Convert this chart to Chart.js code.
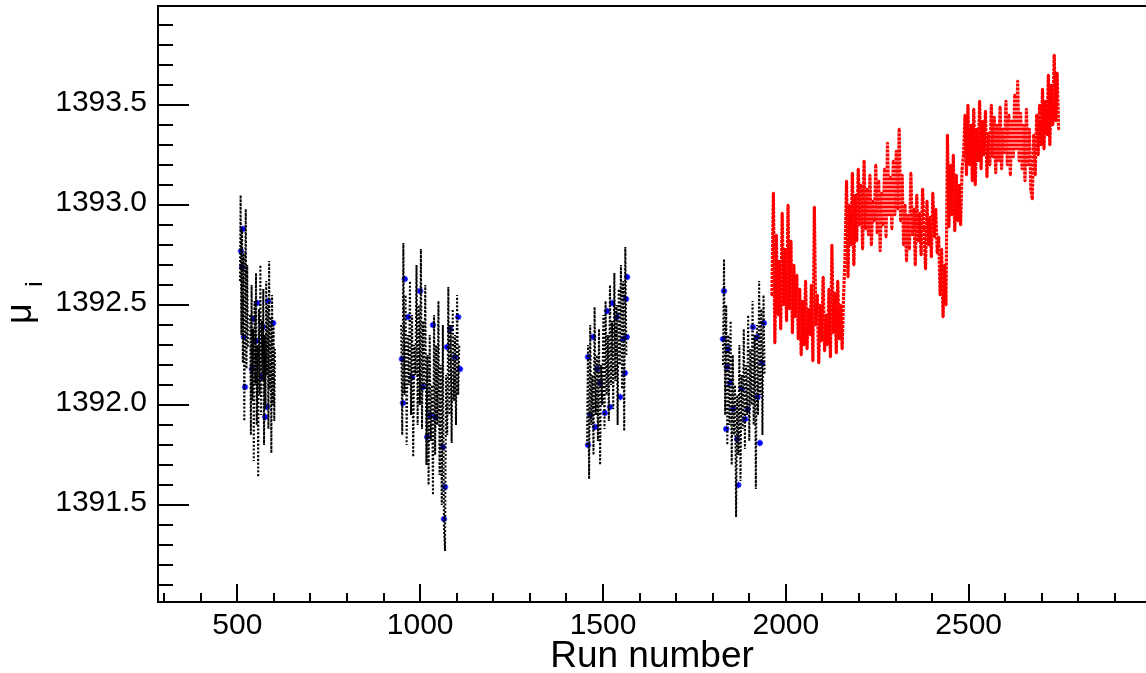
<!DOCTYPE html>
<html>
<head>
<meta charset="utf-8">
<title>mu_i vs run number</title>
<script src="https://cdn.jsdelivr.net/npm/chart.js@4.4.1/dist/chart.umd.min.js"></script>
<style>
  html, body { margin: 0; padding: 0; background: #fff; }
  #wrap { width: 1146px; height: 673px; }
</style>
</head>
<body>
<div id="wrap"><canvas id="chart" width="1146" height="673"></canvas></div>
<script>
// --- Data ---

// black runs, cluster by cluster
const runs1a = [507, 509, 511, 513, 515, 517, 519, 521, 523, 525, 527, 529];
const mu1a = [1392.62, 1393.05, 1392.35, 1392.88, 1392.21, 1392.76, 1391.92, 1392.55, 1392.98, 1392.18, 1392.70, 1392.29];

const runs1b = [535, 537, 539, 541, 543, 545, 547, 549, 551, 553, 555, 557, 559, 561, 563, 565, 567, 569,
  571, 573, 575, 577, 579, 581, 583, 585, 587, 589, 591, 593, 595, 597, 599, 601, 603];
const mu1b = [1392.45, 1391.85, 1392.60, 1392.02, 1392.38, 1391.72, 1392.52, 1392.10, 1392.66, 1391.90,
  1392.30, 1391.64, 1392.48, 1392.05, 1392.70, 1391.95, 1392.42, 1392.12, 1392.58, 1391.80, 1392.35,
  1391.98, 1392.62, 1392.15, 1392.50, 1391.88, 1392.72, 1392.08, 1392.44, 1391.76, 1392.55, 1392.00,
  1392.40, 1391.92, 1392.28];

const runs2 = [948, 951, 954, 957, 960, 963, 966, 969, 972, 975, 978, 981, 984, 987, 990, 993, 996, 999,
  1002, 1005, 1008, 1011, 1014, 1017, 1020, 1023, 1026, 1029, 1032, 1035, 1038, 1041, 1044, 1047, 1050,
  1053, 1056, 1059, 1062, 1065, 1068, 1071, 1074, 1077, 1080, 1083, 1086, 1089, 1092, 1095, 1098, 1101,
  1104, 1107];
const mu2 = [1392.40, 1391.85, 1392.81, 1392.05, 1392.55, 1391.80, 1392.35, 1392.10, 1392.62, 1391.95,
  1392.45, 1391.74, 1392.30, 1392.15, 1392.70, 1391.90, 1392.50, 1392.00, 1392.78, 1391.88, 1392.42,
  1392.08, 1392.60, 1391.70, 1392.25, 1391.60, 1392.35, 1391.82, 1392.10, 1391.55, 1392.45, 1391.75,
  1392.30, 1391.90, 1392.52, 1391.65, 1392.20, 1391.50, 1392.40, 1391.38, 1391.27, 1392.15, 1391.85,
  1392.59, 1391.95, 1392.40, 1391.81, 1392.48, 1392.02, 1392.35, 1391.90, 1392.55, 1392.05, 1392.30];

const runs3 = [1456, 1459, 1462, 1465, 1468, 1471, 1474, 1477, 1480, 1483, 1486, 1489, 1492, 1495, 1498,
  1501, 1504, 1507, 1510, 1513, 1516, 1519, 1522, 1525, 1528, 1531, 1534, 1537, 1540, 1543, 1546, 1549,
  1552, 1555, 1558, 1561, 1564];
const mu3 = [1391.80, 1392.30, 1391.63, 1392.40, 1391.90, 1392.15, 1391.75, 1392.49, 1391.95, 1392.25,
  1391.82, 1392.38, 1391.70, 1392.20, 1392.00, 1392.45, 1391.88, 1392.52, 1392.05, 1392.35, 1391.92,
  1392.60, 1392.10, 1392.42, 1391.98, 1392.66, 1392.12, 1392.50, 1391.90, 1392.58, 1392.20, 1392.70,
  1392.08, 1392.62, 1391.87, 1392.79, 1392.25];

const runs4 = [1828, 1831, 1834, 1837, 1840, 1843, 1846, 1849, 1852, 1855, 1858, 1861, 1864, 1867, 1870,
  1873, 1876, 1879, 1882, 1885, 1888, 1891, 1894, 1897, 1900, 1903, 1906, 1909, 1912, 1915, 1918, 1921,
  1924, 1927, 1930, 1933, 1936, 1939, 1942];
const mu4 = [1392.20, 1392.73, 1391.95, 1392.50, 1391.80, 1392.35, 1391.90, 1392.42, 1391.70, 1392.25,
  1391.85, 1392.10, 1391.44, 1392.05, 1391.75, 1392.30, 1391.62, 1392.15, 1391.88, 1392.38, 1391.78,
  1392.20, 1391.95, 1392.45, 1391.82, 1392.28, 1392.00, 1392.52, 1391.90, 1392.35, 1391.58, 1392.40,
  1391.95, 1392.62, 1392.05, 1392.48, 1391.85, 1392.55, 1392.15];

// blue flagged runs inside the black clusters
const blueRuns = [515, 510, 513, 518, 521, 554, 543, 551, 584, 598, 570, 540, 567, 581, 576,
  958, 967, 1000, 1035, 950, 978, 1008, 953, 1027, 1041, 1062, 1068, 1065, 1082, 1104, 1095, 1109, 1073, 1019,
  1459, 1465, 1478, 1459, 1473, 1484, 1511, 1525, 1538, 1566, 1563, 1555, 1560, 1547, 1519, 1492, 1505, 1565,
  1831, 1828, 1842, 1839, 1847, 1837, 1870, 1856, 1880, 1889, 1910, 1921, 1940, 1935, 1923, 1929, 1896, 1867];
const blueMu = [1392.88, 1392.77, 1392.69, 1392.34, 1392.09, 1392.51, 1392.43, 1392.32, 1392.52, 1392.41,
  1392.39, 1392.18, 1392.14, 1391.99, 1391.94,
  1392.63, 1392.44, 1392.57, 1392.40, 1392.23, 1392.14, 1392.09, 1392.01, 1391.95, 1391.94, 1391.79,
  1391.59, 1391.43, 1392.38, 1392.44, 1392.24, 1392.18, 1392.29, 1391.84,
  1391.80, 1391.95, 1391.89, 1392.24, 1392.34, 1392.18, 1392.47, 1392.51, 1392.44, 1392.64, 1392.53,
  1392.33, 1392.16, 1392.04, 1391.99, 1392.11, 1391.96, 1392.34,
  1392.57, 1392.33, 1392.28, 1392.19, 1392.11, 1391.88, 1391.60, 1391.98, 1392.08, 1391.93, 1392.39,
  1392.34, 1392.41, 1392.21, 1392.04, 1391.81, 1391.98, 1391.83];

// red runs (later period)
const runsRed = [
  1962, 1966, 1970, 1974, 1978, 1982, 1986, 1990, 1994, 1998, 2002, 2006, 2010, 2014, 2018, 2022, 2026, 2030, 2034,
  2038, 2042, 2046, 2050, 2054, 2058, 2062, 2066, 2070, 2074, 2078, 2082, 2086, 2090, 2094, 2098, 2102, 2106,
  2110, 2114, 2118, 2122, 2126, 2130, 2134, 2138, 2142, 2146, 2150, 2154, 2158,
  2162, 2166, 2170, 2174, 2178, 2182, 2186,
  2190, 2194, 2198, 2202, 2206, 2210, 2214, 2218, 2222, 2226, 2230, 2234, 2238, 2242, 2246, 2250, 2254, 2258,
  2262, 2266, 2270, 2274, 2278, 2282, 2286, 2290,
  2294, 2298, 2302, 2306, 2310, 2314, 2318,
  2322, 2326, 2330, 2334, 2338, 2342, 2346, 2350, 2354, 2358, 2362, 2366, 2370, 2374, 2378, 2382, 2386, 2390,
  2394, 2398, 2402, 2406, 2410, 2414,
  2418, 2422, 2426, 2430, 2434, 2438, 2442, 2446, 2450,
  2454, 2458, 2462, 2466, 2470, 2474, 2478, 2482,
  2486, 2490, 2494, 2498, 2502, 2506, 2510, 2514, 2518, 2522, 2526, 2530, 2534, 2538, 2542, 2546, 2550, 2554,
  2558, 2562, 2566, 2570, 2574, 2578, 2582, 2586, 2590, 2594, 2598, 2602, 2606, 2610, 2614, 2618, 2622, 2626,
  2630, 2634, 2638, 2642, 2646, 2650, 2654, 2658, 2662, 2666, 2670, 2674, 2678, 2682, 2686, 2690, 2694,
  2698, 2702, 2706, 2710, 2714, 2718, 2722, 2726, 2730, 2734, 2738, 2742, 2746];
const muRed = [
  1392.55, 1393.06, 1392.31, 1392.85, 1392.45, 1392.72, 1392.38, 1392.96, 1392.50, 1392.78, 1392.42, 1393.00,
  1392.48, 1392.82, 1392.36, 1392.70, 1392.44, 1392.65, 1392.33,
  1392.58, 1392.25, 1392.52, 1392.30, 1392.62, 1392.28, 1392.48, 1392.35, 1392.60, 1392.22, 1392.99, 1392.40,
  1392.55, 1392.21, 1392.50, 1392.32, 1392.64, 1392.27, 1392.45, 1392.30, 1392.58, 1392.24, 1392.80, 1392.36,
  1392.56, 1392.26, 1392.62, 1392.33, 1392.50, 1392.28, 1392.55,
  1392.75, 1393.12, 1392.64, 1393.00, 1392.80, 1393.16, 1392.70,
  1393.05, 1392.82, 1393.18, 1392.90, 1393.10, 1392.78, 1393.22, 1392.88, 1393.08, 1392.85, 1393.15, 1392.80,
  1393.02, 1392.92, 1393.20, 1392.86, 1393.12, 1392.77, 1393.06, 1392.90, 1393.18, 1392.84, 1393.31, 1392.95,
  1393.14, 1392.88,
  1393.22, 1392.95, 1393.27, 1392.98, 1393.38, 1392.92, 1393.15,
  1392.80, 1393.00, 1392.72, 1392.95, 1392.78, 1393.16, 1392.85, 1392.98, 1392.70, 1393.05, 1392.82, 1392.96,
  1392.75, 1393.08, 1392.88, 1392.68, 1393.02, 1392.80, 1392.94, 1392.74, 1393.06, 1392.84, 1392.98, 1392.76,
  1392.84, 1392.55, 1392.78, 1392.44, 1392.70, 1392.50, 1393.35, 1392.89, 1393.20,
  1392.95, 1393.25, 1392.87, 1393.15, 1392.92, 1393.10, 1392.90, 1393.18,
  1393.25, 1393.45, 1393.15, 1393.50, 1393.20, 1393.40, 1393.12, 1393.48, 1393.10, 1393.38, 1393.22, 1393.52,
  1393.18, 1393.42, 1393.25, 1393.47, 1393.14, 1393.36, 1393.20, 1393.50, 1393.24, 1393.44, 1393.16, 1393.40,
  1393.22, 1393.49, 1393.18, 1393.38, 1393.26, 1393.52, 1393.20, 1393.45, 1393.15, 1393.42, 1393.24, 1393.55,
  1393.28, 1393.62, 1393.22, 1393.46, 1393.18, 1393.40, 1393.12, 1393.48, 1393.20, 1393.38, 1393.08, 1393.03,
  1393.35, 1393.15, 1393.45, 1393.25, 1393.50,
  1393.30, 1393.58, 1393.28, 1393.52, 1393.35, 1393.65, 1393.30, 1393.60, 1393.40, 1393.75, 1393.42, 1393.66,
  1393.38];

// axis labels
const xMajorTicks = [500, 1000, 1500, 2000, 2500];
const yMajorTicks = [1391.5, 1392.0, 1392.5, 1393.0, 1393.5];

const toPoints = (xs, ys) => xs.map((x, i) => ({ x: x, y: ys[i] }));

// --- Style ---
const FONT = '"Liberation Sans", Arial, Helvetica, sans-serif';

function dottedRun(xs, ys, color) {
    return {
        data: toPoints(xs, ys),
        showLine: true,
        borderColor: color,
        borderWidth: 2,
        borderDash: [2, 1.8],
        borderCapStyle: 'butt',
        pointRadius: 0,
        pointHoverRadius: 0,
        tension: 0
    };
}

const redSet = dottedRun(runsRed, muRed, '#ff0000');
redSet.borderWidth = 3.2;
redSet.borderDash = [3, 1];
redSet.pointRadius = 1.6;
redSet.pointStyle = 'rect';
redSet.pointBackgroundColor = '#ff0000';
redSet.pointBorderWidth = 0;

// Chart.js reserves room for half a label at the ends; the ROOT frame does not
function noEdgePadding(s) {
    s.paddingTop = 0;
    s.paddingBottom = 0;
    s.paddingLeft = 0;
    s.paddingRight = 0;
}

// ROOT-like frame with inward tick marks, plus axis titles
const rootFrame = {
    id: 'rootFrame',
    afterDatasetsDraw(chart) {
        const { ctx, chartArea: a, scales: { x, y } } = chart;
        ctx.save();
        ctx.strokeStyle = '#000';
        ctx.lineWidth = 2;
        ctx.beginPath();
        for (let k = Math.ceil(y.min * 10); k <= Math.floor(y.max * 10); k++) {
            const py = Math.round(y.getPixelForValue(k / 10));
            const len = (k % 5 === 0) ? 31 : 15;
            ctx.moveTo(a.left, py);
            ctx.lineTo(a.left + len, py);
        }
        for (let k = Math.ceil(x.min / 100); k <= Math.floor(x.max / 100); k++) {
            const px = Math.round(x.getPixelForValue(k * 100));
            const len = (k % 5 === 0) ? 18 : 9;
            ctx.moveTo(px, a.bottom);
            ctx.lineTo(px, a.bottom - len);
        }
        ctx.stroke();

        // frame
        ctx.beginPath();
        ctx.moveTo(a.right, a.top);
        ctx.lineTo(a.left, a.top);
        ctx.lineTo(a.left, a.bottom);
        ctx.lineTo(a.right, a.bottom);
        ctx.stroke();
        ctx.restore();
    },
    afterDraw(chart) {
        const { ctx, chartArea: a } = chart;
        ctx.save();
        ctx.fillStyle = '#000';
        ctx.font = '37px ' + FONT;
        ctx.textAlign = 'center';
        ctx.textBaseline = 'alphabetic';
        ctx.fillText('Run number', (a.left + a.right) / 2, 667);

        // y title: mu with subscript i, rotated
        ctx.font = '36px ' + FONT;
        ctx.translate(31, 324);
        ctx.rotate(-Math.PI / 2);
        ctx.textAlign = 'left';
        ctx.fillText('\u03bc', 0, 0);
        ctx.font = '24px ' + FONT;
        ctx.textAlign = 'center';
        ctx.fillText('i', 40, 11);
        ctx.restore();
    }
};

new Chart(document.getElementById('chart'), {
    type: 'scatter',
    data: {
        datasets: [
            dottedRun(runs1a, mu1a, '#000000'),
            dottedRun(runs1b, mu1b, '#000000'),
            dottedRun(runs2, mu2, '#000000'),
            dottedRun(runs3, mu3, '#000000'),
            dottedRun(runs4, mu4, '#000000'),
            {
                data: toPoints(blueRuns, blueMu),
                showLine: false,
                pointStyle: 'star',
                pointRadius: 3.2,
                borderColor: '#0000ff',
                backgroundColor: '#0000ff',
                pointBorderWidth: 1.5
            },
            redSet
        ]
    },
    options: {
        responsive: false,
        animation: false,
        devicePixelRatio: 1,
        layout: { autoPadding: false, padding: { top: 6, right: 0, left: 0, bottom: 0 } },
        plugins: {
            legend: { display: false },
            tooltip: { enabled: false }
        },
        scales: {
            x: {
                type: 'linear',
                min: 283,
                max: 2985,
                grid: { display: false, drawTicks: false },
                border: { display: false },
                afterBuildTicks: s => { s.ticks = xMajorTicks.map(v => ({ value: v })); },
                afterFit: s => { s.height = 71; noEdgePadding(s); },
                ticks: {
                    autoSkip: false,
                    maxRotation: 0,
                    padding: 6,
                    color: '#000',
                    font: { family: FONT, size: 30 },
                    callback: v => String(v)
                }
            },
            y: {
                type: 'linear',
                min: 1391.015,
                max: 1393.995,
                grid: { display: false, drawTicks: false },
                border: { display: false },
                afterBuildTicks: s => { s.ticks = yMajorTicks.map(v => ({ value: v })); },
                afterFit: s => { s.width = 158; noEdgePadding(s); },
                ticks: {
                    autoSkip: false,
                    padding: 11,
                    labelOffset: -2,
                    color: '#000',
                    font: { family: FONT, size: 30 },
                    callback: v => v.toFixed(1)
                }
            }
        }
    },
    plugins: [rootFrame]
});
</script>
</body>
</html>
